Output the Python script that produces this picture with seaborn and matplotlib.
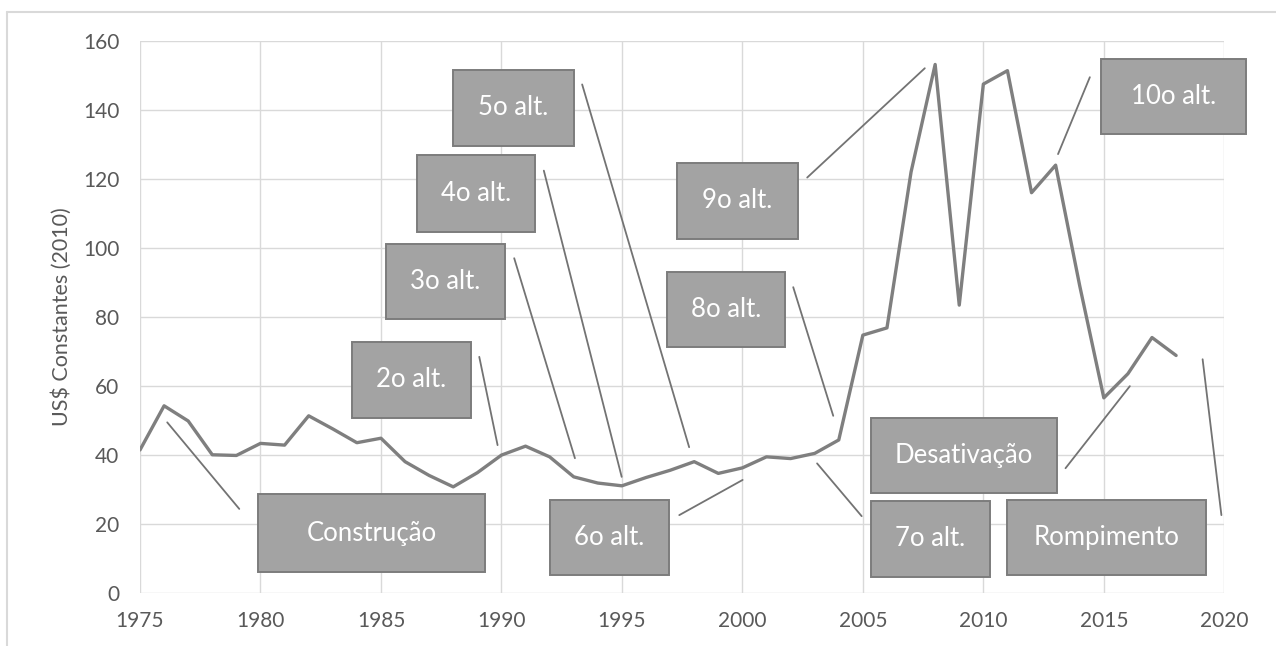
import pandas as pd
import seaborn as sns
import matplotlib.pyplot as plt
from matplotlib.patches import Rectangle
from matplotlib.lines import Line2D

# valores (US$ constantes de 2010)
anos = list(range(1975, 2019))
valores = [41.4, 54.2, 49.8, 40.0, 39.8, 43.3, 42.8, 51.3, 47.5, 43.5,
           44.8, 38.0, 34.0, 30.7, 34.8, 39.9, 42.5, 39.4, 33.6, 31.8,
           31.0, 33.4, 35.5, 38.0, 34.6, 36.2, 39.4, 38.9, 40.4, 44.3,
           74.7, 76.8, 122.0, 153.2, 83.4, 147.5, 151.4, 116.0, 124.0, 89.0,
           56.5, 63.5, 74.0, 68.8]

rotulos = ["Construção", "2o alt.", "3o alt.", "4o alt.", "5o alt.", "6o alt.",
           "7o alt.", "8o alt.", "9o alt.", "10o alt.", "Desativação", "Rompimento"]

dados = pd.DataFrame({"ano": anos, "valor": valores})

# caixas: (x0, x1, y0, y1) e linha de chamada (xa, ya, xb, yb), em coordenadas dos dados
caixas = [(1979.9, 1989.32, 6.0, 28.6), (1983.79, 1988.73, 50.7, 72.7),
          (1985.2, 1990.15, 79.4, 101.1), (1986.5, 1991.4, 104.6, 126.9),
          (1988.0, 1993.0, 129.6, 151.6), (1992.0, 1996.95, 5.1, 26.9),
          (2005.33, 2010.27, 4.6, 26.6), (1996.87, 2001.76, 71.3, 93.0),
          (1997.3, 2002.3, 102.6, 124.6), (2014.88, 2020.9, 133.0, 154.8),
          (2005.33, 2013.05, 28.9, 50.7), (2011.0, 2019.23, 5.1, 26.9)]
chamadas = [(1976.13, 49.4, 1979.12, 24.3), (1989.08, 68.4, 1989.84, 42.8),
            (1990.53, 97.0, 1993.05, 39.0), (1991.76, 122.4, 1994.99, 33.6),
            (1993.35, 147.4, 1997.79, 42.2), (1997.38, 22.5, 2000.01, 32.7),
            (2003.10, 37.5, 2004.95, 22.2), (2002.11, 88.6, 2003.77, 51.3),
            (2002.69, 120.4, 2007.57, 152.1), (2013.10, 127.2, 2014.42, 149.5),
            (2013.41, 36.1, 2016.08, 59.9), (2019.10, 67.7, 2019.88, 22.5)]

sns.set_theme(style="white")
plt.rcParams["font.family"] = ["Lato", "DejaVu Sans"]

fig = plt.figure(figsize=(12.76, 6.46), dpi=100)
ax = fig.add_axes([140 / 1276, 1 - 592.7 / 646, (1224.3 - 140) / 1276, (592.7 - 41) / 646])

sns.lineplot(data=dados, x="ano", y="valor", ax=ax, color="#7f7f7f", linewidth=2.4)

for (x0, x1, y0, y1), txt in zip(caixas, rotulos):
    ax.add_patch(Rectangle((x0, y0), x1 - x0, y1 - y0, facecolor="#a3a3a3",
                           edgecolor="#7c7c7c", linewidth=1.4, clip_on=False, zorder=3))
    ax.text((x0 + x1) / 2, (y0 + y1) / 2, txt, ha="center", va="center",
            color="white", fontsize=18.5, zorder=4, clip_on=False)

for xa, ya, xb, yb in chamadas:
    ax.plot([xa, xb], [ya, yb], color="#737373", linewidth=1.3, zorder=2)

ax.set_xlim(1975, 2020)
ax.set_ylim(0, 160)
ax.set_xticks(range(1975, 2021, 5))
ax.set_yticks(range(0, 161, 20))
ax.grid(True, color="#d9d9d9", linewidth=1)
for s in ax.spines.values():
    s.set_visible(False)
ax.tick_params(axis="both", length=0, labelsize=15, labelcolor="#595959")
ax.tick_params(axis="x", pad=13)
ax.tick_params(axis="y", pad=15)
ax.set_xlabel("")
ax.set_ylabel("US$ Constantes (2010)", fontsize=15.5, color="#595959", labelpad=8)

# moldura clara do grafico
fig.add_artist(Line2D([7 / 1276, 7 / 1276], [0, 1 - 12 / 646], color="#d9d9d9", linewidth=1.5))
fig.add_artist(Line2D([7 / 1276, 1], [1 - 12 / 646, 1 - 12 / 646], color="#d9d9d9", linewidth=1.5))

fig.savefig("out.png", dpi=100)
